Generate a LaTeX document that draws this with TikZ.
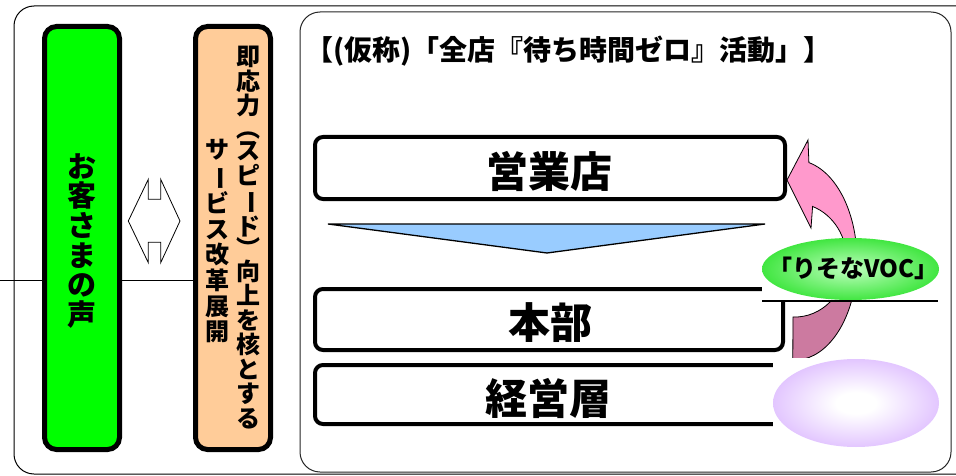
\documentclass[tikz,border=0pt]{standalone}
\usepackage{fontspec}
\setmainfont{Noto Sans CJK JP}
\newcommand{\vbar}{\rotatebox[origin=c]{-90}{ー}}
\definecolor{vgreen}{RGB}{0,255,0}
\definecolor{vorange}{RGB}{255,204,153}
\definecolor{vblue}{RGB}{153,204,255}
\definecolor{vpink}{RGB}{255,153,204}
\definecolor{vdpink}{RGB}{204,122,160}
\definecolor{vpurple}{RGB}{204,153,255}
\definecolor{vlgreen}{RGB}{190,255,190}
\definecolor{vmgreen}{RGB}{40,225,40}
\pgfdeclareradialshading{purpglow}{\pgfpoint{0bp}{0bp}}{color(0bp)=(white); color(6bp)=(white); color(40bp)=(vpurple); color(50bp)=(vpurple)}
\pgfdeclareradialshading{greenglow}{\pgfpoint{0bp}{0bp}}{color(0bp)=(vlgreen); color(30bp)=(vmgreen); color(50bp)=(vmgreen)}
\tikzset{
  colbox/.style={draw, line width=5pt, rounded corners=12pt, minimum width=75pt, minimum height=423pt},
  stagebox/.style={draw, fill=white, line width=4pt, rounded corners=8pt},
  stagetext/.style={font=\bfseries\fontsize{42}{42}\selectfont},
  vtext/.style={align=center, inner sep=0pt},
  thinline/.style={line width=1pt},
}
\begin{document}
\begin{tikzpicture}[x=1pt,y=-1pt, every node/.style={inner sep=0pt}]
\useasboundingbox (0,0) rectangle (956,476);
\fill[white] (0,0) rectangle (956,476);
\begin{scope}
\clip (0,0) rectangle (956,476);
\draw[thinline, rounded corners=20pt] (14,6) rectangle (990,474);
\end{scope}
% left columns
\node[colbox, fill=vgreen] (voice) at (82,238) {};
\node[colbox, fill=vorange] (orange) at (233,238) {};
\node[vtext, font=\bfseries\fontsize{29}{29.7}\selectfont] (voicetxt) at (82,241) {お\\客\\さ\\ま\\の\\声};
\node[vtext, anchor=north, font=\bfseries\fontsize{24}{24.5}\selectfont] (speed1) at (248,46)
  {即\\応\\力\\[-2pt]︵\\[-2pt]ス\\ピ\\\vbar\\ド\\[-2pt]︶\\[-2pt]向\\上\\を\\核\\と\\す\\る};
\node[vtext, anchor=north, font=\bfseries\fontsize{24}{25.7}\selectfont] (speed2) at (217,139)
  {サ\\\vbar\\ビ\\ス\\改\\革\\展\\開};
\coordinate (lstart) at (0,280);
\draw[thinline] (lstart) -- (voice.west |- lstart);
\draw[thinline] (voice.east |- lstart) -- (orange.west |- lstart);
% double arrow
\draw[line width=0.8pt, fill=white] (148.3,179.3) -- (148.3,199.3) -- (160.7,199.3) -- (160.7,179.3)
  -- (180,221) -- (160.7,262.7) -- (160.7,242.3) -- (148.3,242.3) -- (148.3,262.7) -- (128.3,221) -- cycle;
% right panel
\draw[thinline, rounded corners=20pt, draw=black!85] (300,12) rectangle (951,472);
\node[anchor=west, font=\bfseries\fontsize{28}{28}\selectfont] (title) at (305,51) {【(仮称)「全店『待ち時間ゼロ』活動」】};
% stage boxes
\node[stagebox, minimum width=470pt, minimum height=62pt] (shop) at (550,168) {};
\node[stagetext] (shoptxt) at (549,171) {営業店};
\node[stagebox, minimum width=468pt, minimum height=61pt] (hq) at (549,319.5) {};
\node[stagetext] (hqtxt) at (550,322.5) {本部};
\node[stagebox, minimum width=470pt, minimum height=59pt] (mgmt) at (550,394.5) {};
\node[stagetext] (mgmttxt) at (548,398) {経営層};
% triangle
\coordinate (tl) at (328,224);
\coordinate (tr) at (765,224);
\coordinate (tb) at (547,253);
\draw[line width=1.3pt, fill=vblue, line join=miter] (tl) -- (tr) -- (tb) -- cycle;
% VOC arrow
\def\vocarrow{(808.9,162.6) arc[start angle=-77, end angle=92, x radius=62, y radius=100] -- (793,317) arc[start angle=92, end angle=-70, x radius=52, y radius=57] -- (811,228) -- (787,180) -- (808,140) -- cycle}
\fill[vpink] \vocarrow;
\begin{scope}
\clip (700,300) rectangle (950,420);
\fill[vdpink] \vocarrow;
\end{scope}
\draw[line width=0.8pt] \vocarrow;
% green VOC image
\fill[white] (762,238) rectangle (939,300);
\begin{scope}
\clip (762,238) rectangle (939,300);
\shade[shading=greenglow] (850.5,269) ellipse [x radius=88.5, y radius=31];
\end{scope}
\node[font=\bfseries\fontsize{24}{24}\selectfont] (voc) at (853,268) {「りそなVOC」};
\coordinate (vl) at (762,301);
\coordinate (vr) at (938,301);
\draw[line width=2.5pt] (vl) -- (vr);
% purple image
\fill[white] (773,358) rectangle (940,448);
\shade[shading=purpglow] (856,403) ellipse [x radius=83, y radius=44];
\end{tikzpicture}
\end{document}
